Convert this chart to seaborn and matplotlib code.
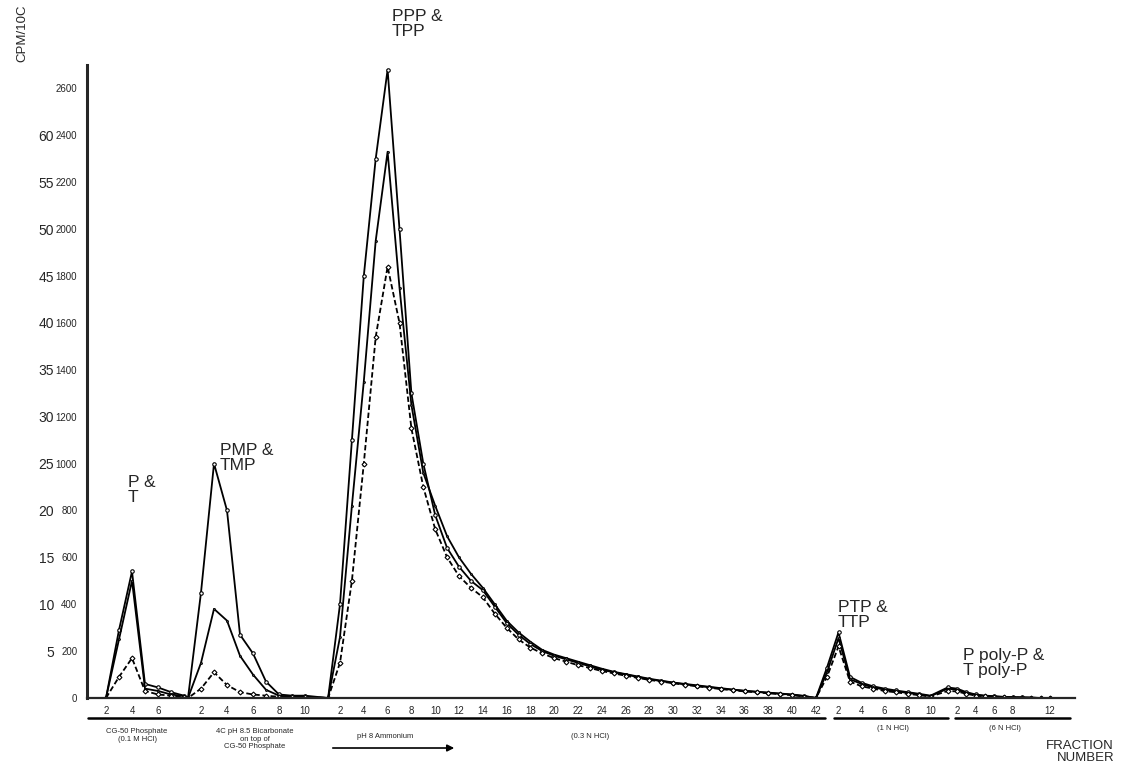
import pandas as pd
import matplotlib
matplotlib.use("Agg")
import matplotlib.pyplot as plt
import seaborn as sns

# column sections (fraction numbers) and the three traces
frac_g1 = [2, 3, 4, 5, 6, 7, 8]
a_g1 = [0, 290, 540, 60, 45, 25, 10]
b_g1 = [0, 250, 500, 40, 30, 15, 8]
c_g1 = [0, 90, 170, 30, 15, 10, 5]

frac_g2 = list(range(1, 11))
a_g2 = [0, 450, 1000, 800, 270, 190, 70, 15, 10, 10]
b_g2 = [0, 150, 380, 330, 180, 100, 35, 10, 5, 5]
c_g2 = [0, 40, 110, 55, 25, 15, 10, 5, 5, 5]

frac_g3 = list(range(1, 43))
a_g3 = [0, 400, 1100, 1800, 2300, 2680, 2000, 1300, 1000, 780,
        640, 560, 500, 460, 390, 320, 270, 230, 200, 180,
        165, 150, 135, 120, 110, 100, 90, 80, 72, 65,
        58, 52, 46, 40, 35, 30, 26, 22, 18, 14, 8, 0]
b_g3 = [0, 260, 820, 1350, 1950, 2330, 1750, 1250, 960, 820,
        690, 600, 530, 470, 400, 330, 280, 240, 205, 185,
        170, 155, 140, 125, 112, 102, 92, 82, 74, 66,
        60, 54, 48, 42, 36, 31, 27, 23, 19, 15, 9, 0]
c_g3 = [0, 150, 500, 1000, 1540, 1840, 1600, 1150, 900, 720,
        600, 520, 470, 430, 360, 300, 250, 215, 190, 170,
        155, 140, 128, 115, 105, 95, 86, 77, 70, 63,
        56, 50, 44, 38, 33, 28, 24, 20, 16, 12, 6, 0]

frac_g4 = list(range(1, 11))
a_g4 = [130, 280, 90, 65, 50, 40, 32, 25, 18, 10]
b_g4 = [110, 255, 80, 60, 45, 36, 28, 22, 15, 8]
c_g4 = [90, 220, 70, 50, 40, 30, 24, 18, 12, 6]

frac_g5 = list(range(1, 13))
a_g5 = [45, 40, 25, 15, 10, 8, 5, 4, 3, 2, 0, 0]
b_g5 = [40, 35, 22, 13, 9, 6, 4, 3, 2, 1, 0, 0]
c_g5 = [30, 28, 18, 10, 7, 5, 3, 2, 1, 1, 0, 0]

ticks_g1 = [2, 4, 6]
ticks_g2 = [2, 4, 6, 8, 10]
ticks_g3 = list(range(2, 43, 2))
ticks_g4 = [2, 4, 6, 8, 10]
ticks_g5 = [2, 4, 6, 8, 12]

left_ticks = [5, 10, 15, 20, 25, 30, 35, 40, 45, 50, 55, 60]
right_ticks = [0, 200, 400, 600, 800, 1000, 1200, 1400, 1600, 1800, 2000, 2200, 2400, 2600]

# where each section sits along the x axis: (start, width of one fraction)
layout = [(80, 13), (175, 13), (316.2, 11.9), (815.5, 11.5), (938.4, 9.3)]

groups = [
    (frac_g1, a_g1, b_g1, c_g1, ticks_g1),
    (frac_g2, a_g2, b_g2, c_g2, ticks_g2),
    (frac_g3, a_g3, b_g3, c_g3, ticks_g3),
    (frac_g4, a_g4, b_g4, c_g4, ticks_g4),
    (frac_g5, a_g5, b_g5, c_g5, ticks_g5),
]

rows = []
tick_pos, tick_lab = [], []
for (start, step), (fr, a, b, c, tk) in zip(layout, groups):
    for name, vals in (("A", a), ("B", b), ("C", c)):
        for f, v in zip(fr, vals):
            rows.append({"pos": start + step * f, "cpm": v, "trace": name})
    for t in tk:
        tick_pos.append(start + step * t)
        tick_lab.append(str(t))
df = pd.DataFrame(rows)

sns.set_style("white")
plt.rcParams["font.family"] = ["Liberation Sans", "DejaVu Sans"]

fig = plt.figure(figsize=(11.21, 7.74), dpi=100)
ax = fig.add_axes([87 / 1121, 76 / 774, 988 / 1121, 633 / 774])

sns.lineplot(data=df, x="pos", y="cpm", hue="trace", style="trace",
             palette=["black", "black", "black"],
             markers={"A": "o", "B": ".", "C": "D"},
             dashes={"A": "", "B": "", "C": (3, 1.5)},
             markersize=2.5, linewidth=1.3, sort=False, legend=False,
             markerfacecolor="white", markeredgecolor="black",
             markeredgewidth=0.8, ax=ax)

ax.set_xlim(87, 1075)
ax.set_ylim(0, 2700)
ax.set_xlabel("")
ax.set_ylabel("")

sns.despine(ax=ax, top=True, right=True)
ax.spines["left"].set_linewidth(2.2)
ax.spines["bottom"].set_linewidth(1.6)

ax.set_yticks(right_ticks, [str(t) for t in right_ticks])
ax.tick_params(axis="y", direction="out", length=4, width=1, pad=3, labelsize=7)
ax.set_xticks(tick_pos, tick_lab)
ax.tick_params(axis="x", length=0, pad=6, labelsize=7)

sec = ax.secondary_yaxis(-0.032, functions=(lambda y: y / 40, lambda y: y * 40))
sec.set_yticks(left_ticks)
sec.spines["left"].set_visible(False)
sec.tick_params(length=0, pad=1, labelsize=10)

fig.text(22 / 1121, 1 - 33 / 774, "CPM/10C", rotation=90, ha="center",
         va="center", fontsize=9.5)

# peak names
peak_font = dict(fontsize=12.5, ha="left", va="top", linespacing=1.0)
ax.text(128, 950, "P &\nT", **peak_font)
ax.text(220, 1088, "PMP &\nTMP", **peak_font)
ax.text(392, 2940, "PPP &\nTPP", **peak_font)
ax.text(838, 420, "PTP &\nTTP", **peak_font)
ax.text(963, 215, "P poly-P &\nT poly-P", **peak_font)

# section underlines and eluent labels below the fraction numbers
xt = ax.get_xaxis_transform()
for x0, x1 in [(88, 825), (834, 948), (955, 1070)]:
    ax.plot([x0, x1], [-0.031, -0.031], color="black", lw=1.8,
            transform=xt, clip_on=False)

small = dict(fontsize=5.5, ha="center", va="top", transform=xt, linespacing=1.1)
ax.text(137, -0.048, "CG-50 Phosphate\n(0.1 M HCl)", **small)
ax.text(255, -0.048, "4C pH 8.5 Bicarbonate\non top of\nCG-50 Phosphate", **small)
ax.text(385, -0.056, "pH 8 Ammonium", **small)
ax.annotate("", xy=(457, -0.079), xytext=(330, -0.079), xycoords=xt,
            textcoords=xt, arrowprops=dict(arrowstyle="-|>", lw=1.2, color="black"))
ax.text(590, -0.056, "(0.3 N HCl)", **small)
ax.text(893, -0.042, "(1 N HCl)", **small)
ax.text(1005, -0.042, "(6 N HCl)", **small)

fig.text(1114 / 1121, 1 - 740 / 774, "FRACTION\nNUMBER", ha="right", va="top",
         fontsize=9.5, linespacing=1.0)

fig.savefig("out.png", dpi=100)
